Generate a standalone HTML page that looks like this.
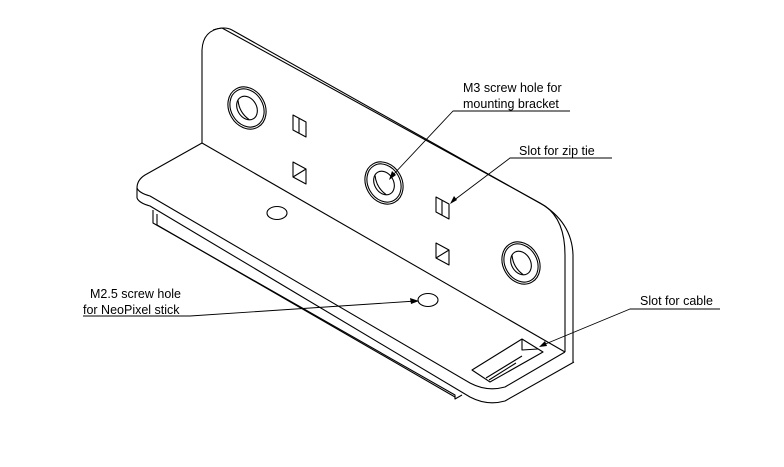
<!DOCTYPE html>
<html><head><meta charset="utf-8"><style>
html,body{margin:0;padding:0;background:#fff;}
svg{display:block;}
text{font-family:"Liberation Sans",Arial,sans-serif;font-size:12.5px;fill:#000;}
</style></head><body>
<svg width="784" height="467" viewBox="0 0 784 467" xmlns="http://www.w3.org/2000/svg">
<g fill="none" stroke="#000" stroke-width="1.1" stroke-linejoin="round">
<!-- vertical plate -->
<path d="M202,143 L202,50 Q203,30 222,28 L540,203 Q572,222 573,255 L573,362"/>
<path d="M213,30 Q225,26 232,30 L545,206 Q565,220 565,255 L565,352"/>
<path d="M202,143 L565,352"/>
<!-- base plate -->
<path d="M202,143 L145,175 Q137,180 137,188 L137,198"/>
<path d="M137,188 Q139,193 150,196 L470,383 Q487,392 505,387 L565,352"/>
<path d="M137,198 Q139,203 150,206 L470,397 Q487,406 505,401 L574,362"/>
<!-- under part (NeoPixel stick) -->
<path d="M153,210 L153,223 L455,395 L455,399"/>
<path d="M157,214 L157,225 L455,397"/>
<path d="M455,396 L455,399 L462,395"/>
<!-- cable slot -->
<path d="M472,370 L522,339 L543,352 L490,382 Z"/>
<path d="M522,339 L522,350 L538,349"/>
<path d="M486,378 L522,356"/>
<path d="M489,380 L516,363"/>
<!-- large counterbored holes -->
<g transform="translate(247,108) rotate(-30)">
<ellipse rx="18" ry="22"/><ellipse rx="16" ry="20"/><ellipse rx="9.5" ry="12.5"/><path d="M-4,-11 Q-9,0 -4,11"/>
</g>
<g transform="translate(384,183) rotate(-30)">
<ellipse rx="18" ry="22"/><ellipse rx="16" ry="20"/><ellipse rx="9.5" ry="12.5"/><path d="M-4,-11 Q-9,0 -4,11"/>
</g>
<g transform="translate(521,263) rotate(-30)">
<ellipse rx="18" ry="22"/><ellipse rx="16" ry="20"/><ellipse rx="9.5" ry="12.5"/><path d="M-4,-11 Q-9,0 -4,11"/>
</g>
<!-- square slots -->
<path d="M293,115 L306,122 L306,137 L293,130 Z M299,118 L299,133 M293,130 L306,137"/>
<path d="M293,162 L306,169 L306,184 L293,177 Z M293,177 L306,169"/>
<path d="M436,197 L449,204 L449,219 L436,212 Z M442,200 L442,215 M436,212 L449,219"/>
<path d="M436,243 L449,250 L449,265 L436,258 Z M436,258 L449,250"/>
<!-- small holes -->
<ellipse cx="277" cy="213" rx="10" ry="6.5"/>
<ellipse cx="428" cy="300" rx="10" ry="6.5"/>
<!-- leaders -->
<g stroke-width="0.9">
<path d="M570,111 L453,111 L392,176"/>
<path d="M612,158 L510,158 L453,201"/>
<path d="M720,309 L630,309 L543,345"/>
<path d="M83,316 L190,316 L416,301"/>
</g>
</g>
<g fill="#000">
<path d="M389,180 L392,171 L396,175 Z"/>
<path d="M450,204 L454,196 L457,200 Z"/>
<path d="M539,347 L545,341 L547,346 Z"/>
<path d="M419,301 L410,298 L411,304 Z"/>
</g>
<text x="463" y="92">M3 screw hole for</text>
<text x="463" y="108">mounting bracket</text>
<text x="519" y="155">Slot for zip tie</text>
<text x="640" y="305">Slot for cable</text>
<text x="90" y="298">M2.5 screw hole</text>
<text x="83" y="314">for NeoPixel stick</text>
</svg>
</body></html>
